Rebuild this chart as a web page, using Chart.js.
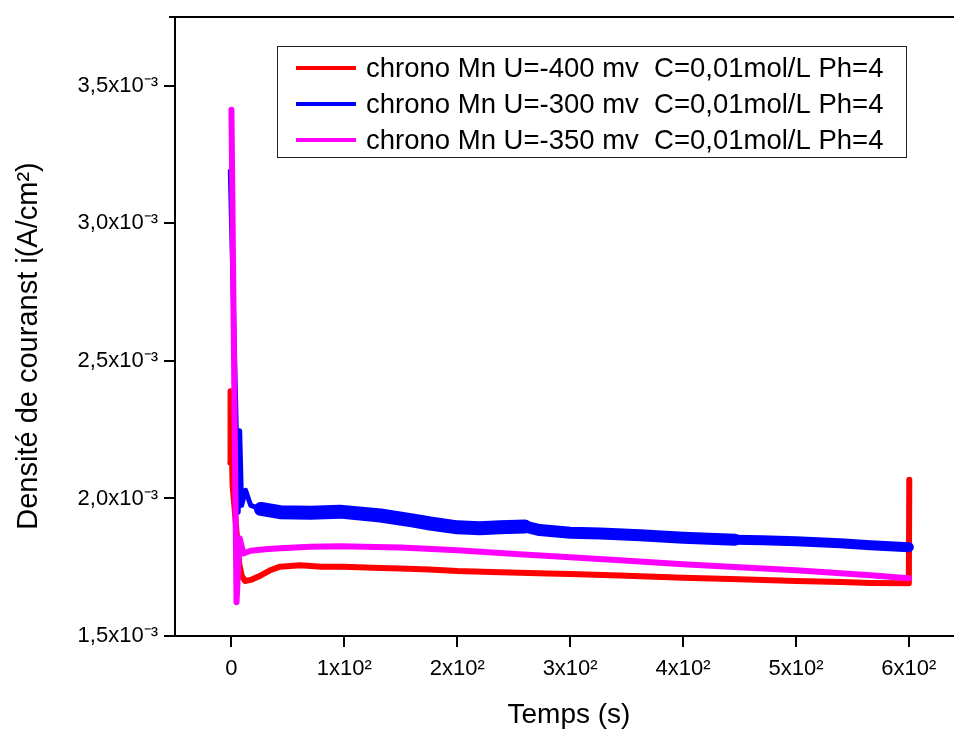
<!DOCTYPE html>
<html>
<head>
<meta charset="utf-8">
<script src="https://cdn.jsdelivr.net/npm/chart.js@4.4.0/dist/chart.umd.min.js"></script>
<style>
  html, body { margin: 0; padding: 0; background: #fff; overflow: hidden; }
  canvas { display: block; }
</style>
</head>
<body>
<canvas id="chrono" width="954" height="729"></canvas>
<script>
const FONT = '"Liberation Sans", Arial, Helvetica, sans-serif';

// legend texts and colours, in legend order
const SERIES_LABELS = [
  'chrono Mn U=-400 mv  C=0,01mol/L Ph=4',
  'chrono Mn U=-300 mv  C=0,01mol/L Ph=4',
  'chrono Mn U=-350 mv  C=0,01mol/L Ph=4',
];
const SERIES_COLORS = ['#ff0000', '#0000ff', '#ff00ff'];

// U = -400 mV (time s, current density A/cm²)
const tRed = [-1, -0.8, 1, 7, 9, 12, 18, 26, 35, 43, 61, 80, 100, 125, 150, 175, 200, 230, 255, 280, 300, 344, 400, 450, 500, 540, 566, 600, 600.4];
const iRed = [2.13e-3, 2.39e-3, 2.05e-3, 1.76e-3, 1.72e-3, 1.70e-3, 1.705e-3, 1.72e-3, 1.74e-3, 1.752e-3, 1.757e-3, 1.752e-3, 1.752e-3, 1.748e-3, 1.745e-3, 1.742e-3, 1.736e-3, 1.733e-3, 1.730e-3, 1.727e-3, 1.725e-3, 1.720e-3, 1.712e-3, 1.706e-3, 1.700e-3, 1.696e-3, 1.693e-3, 1.692e-3, 2.068e-3];

// U = -300 mV
const tBlue = [-1, 6, 7.3, 9, 12.5, 17, 26, 43, 70, 96, 132, 160, 176, 200, 220, 238, 260, 273, 300, 327, 362, 400, 446, 470, 500, 539, 566, 600];
const iBlue = [3.19e-3, 1.95e-3, 2.246e-3, 1.975e-3, 2.03e-3, 1.975e-3, 1.962e-3, 1.95e-3, 1.948e-3, 1.952e-3, 1.938e-3, 1.92e-3, 1.909e-3, 1.895e-3, 1.892e-3, 1.895e-3, 1.898e-3, 1.885e-3, 1.875e-3, 1.873e-3, 1.866e-3, 1.857e-3, 1.850e-3, 1.848e-3, 1.844e-3, 1.837e-3, 1.830e-3, 1.823e-3];

// U = -350 mV
const tMag = [0, 4.5, 7.3, 10.6, 17, 30, 43, 70, 96, 150, 200, 255, 300, 344, 400, 450, 500, 566, 600];
const iMag = [3.413e-3, 1.623e-3, 1.855e-3, 1.80e-3, 1.81e-3, 1.815e-3, 1.819e-3, 1.824e-3, 1.826e-3, 1.822e-3, 1.812e-3, 1.797e-3, 1.786e-3, 1.775e-3, 1.761e-3, 1.750e-3, 1.739e-3, 1.721e-3, 1.710e-3];

const X_TICKS = [0, 100, 200, 300, 400, 500, 600];
const X_TICK_LABELS = ['0', '1x10²', '2x10²', '3x10²', '4x10²', '5x10²', '6x10²'];
const Y_TICKS = [1.5e-3, 2.0e-3, 2.5e-3, 3.0e-3, 3.5e-3];
const Y_TICK_LABELS = ['1,5x10⁻³', '2,0x10⁻³', '2,5x10⁻³', '3,0x10⁻³', '3,5x10⁻³'];

const X_TITLE = 'Temps (s)';
const Y_TITLE = 'Densité de couranst i(A/cm²)';

const toPoints = (xs, ys) => xs.map((x, i) => ({ x, y: ys[i] }));
const findTick = (list, v) => list.findIndex((t) => Math.abs(t - v) < 1e-9);

const frame = {
  id: 'frame',
  afterDatasetsDraw(chart) {
    const { ctx, chartArea: a, scales: { x, y } } = chart;
    ctx.save();
    ctx.strokeStyle = '#000';
    ctx.lineWidth = 2;

    ctx.beginPath();
    ctx.moveTo(a.left - 6, a.top);
    ctx.lineTo(a.right, a.top);
    ctx.stroke();

    y.ticks.forEach((t) => {
      const py = Math.round(y.getPixelForValue(t.value));
      const len = findTick(Y_TICKS, t.value) >= 0 ? 11 : 6;
      ctx.beginPath();
      ctx.moveTo(a.left - len, py);
      ctx.lineTo(a.left, py);
      ctx.stroke();
    });
    x.ticks.forEach((t) => {
      const px = Math.round(x.getPixelForValue(t.value));
      const len = findTick(X_TICKS, t.value) >= 0 ? 11 : 6;
      ctx.beginPath();
      ctx.moveTo(px, a.bottom);
      ctx.lineTo(px, a.bottom + len);
      ctx.stroke();
    });

    // legend box inside the plot
    const box = { left: 277, top: 46, width: 629, height: 111 };
    ctx.fillStyle = '#fff';
    ctx.fillRect(box.left, box.top, box.width, box.height);
    ctx.lineWidth = 1;
    ctx.strokeStyle = '#222';
    ctx.strokeRect(box.left + 0.5, box.top + 0.5, box.width, box.height);
    ctx.font = `27.5px ${FONT}`;
    ctx.textBaseline = 'middle';
    ctx.textAlign = 'left';
    SERIES_LABELS.forEach((label, i) => {
      const ly = 68 + i * 36;
      ctx.strokeStyle = SERIES_COLORS[i];
      ctx.lineWidth = 4;
      ctx.beginPath();
      ctx.moveTo(296, ly);
      ctx.lineTo(356, ly);
      ctx.stroke();
      ctx.fillStyle = '#000';
      ctx.fillText(label, 366, ly + 1);
    });

    // axis titles
    ctx.font = `28px ${FONT}`;
    ctx.textAlign = 'center';
    ctx.fillText(X_TITLE, 569, 715);
    ctx.font = `29px ${FONT}`;
    ctx.translate(29, 346);
    ctx.rotate(-Math.PI / 2);
    ctx.fillText(Y_TITLE, 0, 0);
    ctx.restore();
  },
};

// the -300 mV record is noisier early on: thicker band there
const widthBlue = (ctx) => {
  const t = ctx.p0.parsed.x;
  if (t < 20) return 5;
  if (t < 240) return 14;
  return t < 420 ? 12 : 10;
};

new Chart(document.getElementById('chrono').getContext('2d'), {
  type: 'line',
  data: {
    datasets: [
      { label: SERIES_LABELS[0], data: toPoints(tRed, iRed), borderColor: SERIES_COLORS[0], borderWidth: 6, order: 2 },
      { label: SERIES_LABELS[1], data: toPoints(tBlue, iBlue), borderColor: SERIES_COLORS[1], borderWidth: 10, order: 1,
        segment: { borderWidth: widthBlue } },
      { label: SERIES_LABELS[2], data: toPoints(tMag, iMag), borderColor: SERIES_COLORS[2], borderWidth: 6, order: 0 },
    ],
  },
  options: {
    responsive: false,
    animation: false,
    layout: { padding: { top: 17, right: 0, left: 0, bottom: 0 } },
    elements: { point: { radius: 0 }, line: { tension: 0, borderJoinStyle: 'round', borderCapStyle: 'round' } },
    plugins: { legend: { display: false }, tooltip: { enabled: false } },
    scales: {
      x: {
        type: 'linear',
        min: -50,
        max: 640,
        grid: { display: false, drawTicks: false },
        border: { display: true, color: '#000', width: 2 },
        afterFit: (scale) => {
          scale.height = 93;
          scale.paddingLeft = 0;
          scale.paddingRight = 0;
        },
        ticks: {
          stepSize: 50,
          includeBounds: false,
          autoSkip: false,
          maxRotation: 0,
          padding: 20,
          color: '#000',
          font: { family: FONT, size: 22 },
          callback: (v) => { const i = findTick(X_TICKS, v); return i >= 0 ? X_TICK_LABELS[i] : null; },
        },
      },
      y: {
        min: 1.5e-3,
        max: 3.75e-3,
        grid: { display: false, drawTicks: false },
        border: { display: true, color: '#000', width: 2 },
        afterFit: (scale) => {
          scale.width = 175;
          scale.paddingTop = 0;
          scale.paddingBottom = 0;
        },
        ticks: {
          stepSize: 0.25e-3,
          autoSkip: false,
          padding: 17,
          color: '#000',
          font: { family: FONT, size: 22 },
          callback: (v) => { const i = findTick(Y_TICKS, v); return i >= 0 ? Y_TICK_LABELS[i] : null; },
        },
      },
    },
  },
  plugins: [frame],
});
</script>
</body>
</html>
